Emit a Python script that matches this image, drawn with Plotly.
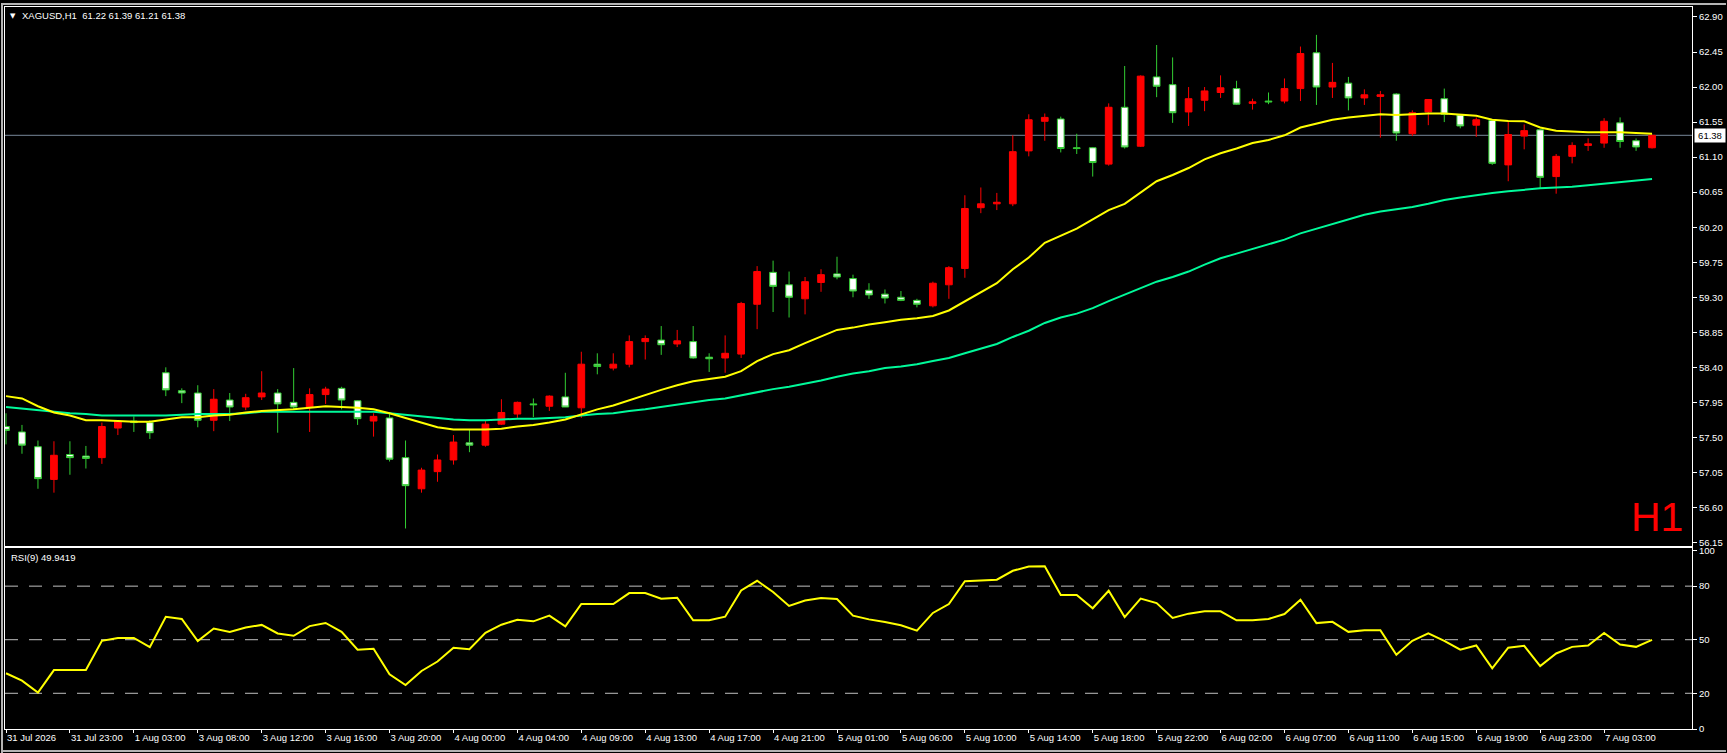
import plotly.graph_objects as go
from plotly.subplots import make_subplots

# --- data (XAGUSD, H1) ---
opens = [57.64, 57.57, 57.38, 56.96, 57.28, 57.26, 57.24, 57.62, 57.71, 57.69,
         58.33, 58.10, 58.07, 57.72, 57.98, 57.89, 58.02, 58.07, 57.95, 57.89,
         58.05, 58.13, 57.97, 57.71, 57.75, 57.24, 56.84, 57.06, 57.21, 57.43,
         57.40, 57.67, 57.80, 57.93, 57.90, 58.02, 57.88, 58.44, 58.39, 58.44,
         58.73, 58.75, 58.70, 58.73, 58.53, 58.52, 58.57, 59.21, 59.62, 59.46,
         59.28, 59.49, 59.60, 59.54, 59.39, 59.34, 59.30, 59.26, 59.19, 59.46,
         59.67, 60.45, 60.50, 60.50, 61.18, 61.56, 61.59, 61.22, 61.22, 61.01,
         61.74, 61.24, 62.13, 62.03, 61.68, 61.83, 61.93, 61.98, 61.79, 61.82,
         61.82, 61.98, 62.44, 62.00, 62.05, 61.86, 61.88, 61.91, 61.40, 61.68,
         61.85, 61.64, 61.51, 61.57, 61.00, 61.37, 61.45, 60.85, 61.11, 61.25,
         61.28, 61.54, 61.31, 61.22]
highs = [57.81, 57.66, 57.46, 57.45, 57.45, 57.39, 57.69, 57.72, 57.77, 57.72,
         58.40, 58.13, 58.17, 58.12, 58.07, 58.06, 58.35, 58.12, 58.39, 58.13,
         58.15, 58.15, 57.98, 57.81, 57.80, 57.46, 57.11, 57.28, 57.53, 57.60,
         57.71, 57.99, 57.96, 58.00, 58.04, 58.33, 58.60, 58.58, 58.58, 58.81,
         58.81, 58.93, 58.88, 58.93, 58.58, 58.81, 59.24, 59.70, 59.77, 59.63,
         59.56, 59.66, 59.82, 59.59, 59.48, 59.40, 59.38, 59.28, 59.50, 59.70,
         60.61, 60.71, 60.64, 61.38, 61.65, 61.66, 61.62, 61.40, 61.23, 61.79,
         62.27, 62.15, 62.54, 62.38, 62.00, 62.00, 62.15, 62.08, 61.85, 61.93,
         62.11, 62.52, 62.67, 62.31, 62.13, 61.97, 61.95, 61.92, 61.70, 61.84,
         61.98, 61.65, 61.61, 61.58, 61.55, 61.52, 61.46, 61.14, 61.29, 61.34,
         61.60, 61.61, 61.34, 61.39]
lows = [57.41, 57.29, 56.84, 56.79, 57.02, 57.10, 57.16, 57.53, 57.57, 57.48,
        58.03, 57.94, 57.63, 57.58, 57.71, 57.85, 57.98, 57.56, 57.86, 57.57,
        57.93, 57.86, 57.66, 57.51, 57.19, 56.33, 56.79, 56.93, 57.15, 57.31,
        57.38, 57.66, 57.75, 57.76, 57.84, 57.89, 57.75, 58.31, 58.36, 58.40,
        58.50, 58.56, 58.66, 58.51, 58.34, 58.33, 58.52, 58.89, 59.11, 59.04,
        59.08, 59.37, 59.53, 59.30, 59.28, 59.22, 59.25, 59.17, 59.17, 59.28,
        59.55, 60.38, 60.42, 60.47, 61.11, 61.31, 61.16, 61.14, 60.85, 60.99,
        61.21, 61.23, 61.87, 61.54, 61.50, 61.69, 61.86, 61.77, 61.71, 61.78,
        61.79, 61.82, 61.77, 61.86, 61.70, 61.77, 61.35, 61.31, 61.37, 61.51,
        61.55, 61.47, 61.36, 61.00, 60.79, 61.20, 60.70, 60.63, 61.02, 61.18,
        61.22, 61.22, 61.18, 61.21]
closes = [57.59, 57.40, 56.97, 57.27, 57.24, 57.23, 57.64, 57.71, 57.69, 57.56,
          58.11, 58.07, 57.72, 57.99, 57.89, 58.01, 58.07, 57.93, 57.89, 58.05,
          58.12, 57.98, 57.74, 57.77, 57.22, 56.88, 57.08, 57.21, 57.44, 57.40,
          57.67, 57.82, 57.95, 57.92, 58.03, 57.89, 58.44, 58.41, 58.44, 58.73,
          58.77, 58.69, 58.74, 58.52, 58.51, 58.58, 59.22, 59.63, 59.44, 59.30,
          59.50, 59.59, 59.56, 59.38, 59.33, 59.29, 59.26, 59.21, 59.48, 59.68,
          60.44, 60.50, 60.52, 61.17, 61.58, 61.61, 61.21, 61.21, 61.03, 61.74,
          61.23, 62.14, 62.01, 61.67, 61.85, 61.95, 61.99, 61.78, 61.81, 61.81,
          61.98, 62.43, 62.00, 62.06, 61.86, 61.90, 61.90, 61.41, 61.67, 61.84,
          61.65, 61.50, 61.58, 61.02, 61.39, 61.44, 60.84, 61.11, 61.25, 61.27,
          61.56, 61.30, 61.23, 61.38]

ma_fast = [58.03, 58.00, 57.90, 57.82, 57.78, 57.72, 57.72, 57.71, 57.70, 57.70,
           57.73, 57.76, 57.76, 57.78, 57.79, 57.82, 57.84, 57.85, 57.86, 57.88,
           57.90, 57.89, 57.88, 57.86, 57.81, 57.75, 57.69, 57.63, 57.60, 57.60,
           57.60, 57.61, 57.64, 57.66, 57.69, 57.73, 57.80, 57.86, 57.91, 57.98,
           58.05, 58.11, 58.17, 58.22, 58.25, 58.28, 58.35, 58.48, 58.57, 58.62,
           58.71, 58.79, 58.88, 58.91, 58.95, 58.98, 59.01, 59.03, 59.06, 59.13,
           59.25, 59.37, 59.48, 59.66, 59.81, 60.00, 60.09, 60.18, 60.30, 60.42,
           60.50, 60.64, 60.79, 60.87, 60.96, 61.07, 61.15, 61.21, 61.28, 61.32,
           61.38, 61.48, 61.53, 61.58, 61.61, 61.63, 61.65, 61.64, 61.65, 61.66,
           61.66, 61.645, 61.63, 61.58, 61.565, 61.56, 61.48, 61.44, 61.43, 61.42,
           61.42, 61.42, 61.41, 61.40]
ma_slow = [57.89, 57.87, 57.85, 57.83, 57.81, 57.80, 57.78, 57.78, 57.78, 57.78,
           57.78, 57.79, 57.80, 57.80, 57.80, 57.81, 57.83, 57.83, 57.83, 57.83,
           57.83, 57.83, 57.83, 57.83, 57.81, 57.79, 57.77, 57.75, 57.73, 57.72,
           57.72, 57.73, 57.74, 57.74, 57.75, 57.76, 57.78, 57.80, 57.81, 57.84,
           57.86, 57.89, 57.92, 57.95, 57.98, 58.00, 58.04, 58.08, 58.12, 58.15,
           58.19, 58.23, 58.28, 58.32, 58.35, 58.39, 58.41, 58.44, 58.48, 58.52,
           58.58, 58.64, 58.70, 58.79, 58.87, 58.97, 59.04, 59.09, 59.16, 59.25,
           59.33, 59.41, 59.50, 59.56, 59.63, 59.72, 59.80, 59.86, 59.92, 59.98,
           60.04, 60.12, 60.18, 60.24, 60.30, 60.36, 60.40, 60.43, 60.46, 60.50,
           60.55, 60.58, 60.61, 60.64, 60.66, 60.68, 60.70, 60.71, 60.72, 60.74,
           60.76, 60.78, 60.80, 60.82]

rsi = [31.2, 27.1, 20.4, 33.0, 33.0, 33.0, 49.4, 51.0, 51.0, 45.8,
       62.8, 61.6, 49.2, 56.3, 54.4, 56.8, 58.3, 53.5, 52.2, 57.6,
       59.4, 54.4, 44.4, 44.9, 30.6, 24.6, 32.5, 37.8, 45.5, 44.7,
       53.9, 58.4, 61.2, 60.3, 63.5, 57.5, 70.0, 70.0, 70.0, 76.1,
       76.1, 73.0, 73.5, 60.9, 60.9, 62.9, 77.6, 83.0, 76.7, 68.9,
       72.0, 73.3, 72.8, 63.5, 61.4, 59.9, 58.1, 55.1, 65.0, 70.0,
       82.8, 83.2, 83.6, 88.6, 91.0, 91.2, 75.0, 75.0, 67.6, 77.4,
       62.7, 73.0, 70.5, 62.2, 64.6, 65.9, 65.9, 60.9, 60.9, 61.6,
       64.4, 72.4, 59.3, 60.0, 54.4, 55.3, 55.3, 41.6, 49.4, 53.5,
       49.4, 44.4, 46.8, 34.0, 45.5, 46.6, 35.2, 42.3, 46.0, 46.8,
       53.8, 47.3, 46.0, 49.9419]

time_labels = ["31 Jul 2026", "31 Jul 23:00", "1 Aug 03:00", "3 Aug 08:00",
               "3 Aug 12:00", "3 Aug 16:00", "3 Aug 20:00", "4 Aug 00:00",
               "4 Aug 04:00", "4 Aug 09:00", "4 Aug 13:00", "4 Aug 17:00",
               "4 Aug 21:00", "5 Aug 01:00", "5 Aug 06:00", "5 Aug 10:00",
               "5 Aug 14:00", "5 Aug 18:00", "5 Aug 22:00", "6 Aug 02:00",
               "6 Aug 07:00", "6 Aug 11:00", "6 Aug 15:00", "6 Aug 19:00",
               "6 Aug 23:00", "7 Aug 03:00"]
price_ticks = [56.15, 56.60, 57.05, 57.50, 57.95, 58.40, 58.85, 59.30,
               59.75, 60.20, 60.65, 61.10, 61.55, 62.00, 62.45, 62.90]
rsi_levels = [20, 50, 80]
rsi_ticks = [0, 20, 50, 80, 100]
last_price = closes[-1]

bars = list(range(len(closes)))
tick_bars = bars[::4][:len(time_labels)]

# --- page geometry (pixels) ---
W, H = 1727, 753
L, R, T, B = 4, 34, 4, 24
PW, PH = W - L - R, H - T - B


def px_x(px):
    return (px - L) / PW


def px_y(py):
    return (H - B - py) / PH


FONT = "Liberation Sans"
GREEN = "#32cd32"

fig = make_subplots(rows=2, cols=1, shared_xaxes=True)

fig.add_trace(go.Candlestick(
    x=bars, open=opens, high=highs, low=lows, close=closes,
    increasing=dict(line=dict(color="#ff0000", width=1), fillcolor="#ff0000"),
    decreasing=dict(line=dict(color=GREEN, width=1), fillcolor="#ffffff"),
    whiskerwidth=0, hoverinfo="skip", showlegend=False,
), row=1, col=1)

fig.add_trace(go.Scatter(x=bars, y=ma_slow, mode="lines",
                         line=dict(color="#00fa9a", width=2),
                         hoverinfo="skip", showlegend=False), row=1, col=1)
fig.add_trace(go.Scatter(x=bars, y=ma_fast, mode="lines",
                         line=dict(color="#ffff00", width=2),
                         hoverinfo="skip", showlegend=False), row=1, col=1)

fig.add_trace(go.Scatter(x=bars, y=rsi, mode="lines",
                         line=dict(color="#ffff00", width=2),
                         hoverinfo="skip", showlegend=False), row=2, col=1)

# level lines of the RSI window
for lvl in rsi_levels:
    fig.add_shape(type="line", xref="paper", yref="y2", x0=0, x1=1, y0=lvl, y1=lvl,
                  line=dict(color="#c0c0c0", width=1, dash="13px,11px"), layer="below")

# current price line
fig.add_shape(type="line", xref="paper", yref="y", x0=0, x1=1,
              y0=last_price, y1=last_price, line=dict(color="#778899", width=1), layer="below")

# window frame (light grey edge)
for x0, y0, x1, y1 in [(1, 0, 1, H), (0, 1, W, 1), (0, H - 2, W, H - 2)]:
    fig.add_shape(type="line", xref="paper", yref="paper",
                  x0=px_x(x0), x1=px_x(x1), y0=px_y(y0), y1=px_y(y1),
                  line=dict(color="#b4b4b4", width=2))

axis_font = dict(family=FONT, size=9.5, color="#ffffff")
common = dict(showgrid=False, zeroline=False, showline=True, mirror=True,
              linecolor="#ffffff", linewidth=1)

fig.update_layout(
    width=W, height=H,
    margin=dict(l=L, r=R, t=T, b=B),
    paper_bgcolor="#000000", plot_bgcolor="#000000",
    boxgap=0.4,
    hovermode=False,
    xaxis=dict(domain=[0, 1], range=[-0.0625, 105.5], rangeslider=dict(visible=False),
               showticklabels=False, ticks="", **common),
    yaxis=dict(domain=[px_y(545), 1], range=[56.108, 63.028], side="right",
               tickvals=price_ticks, ticktext=[f"{v:.2f}" for v in price_ticks],
               ticks="outside", ticklen=4, tickcolor="#ffffff", tickfont=axis_font, **common),
    xaxis2=dict(domain=[0, 1], range=[-0.0625, 105.5],
                tickvals=tick_bars, ticktext=time_labels, ticklabelposition="outside right",
                ticks="outside", ticklen=3, tickcolor="#ffffff", tickfont=axis_font, **common),
    yaxis2=dict(domain=[0, px_y(547)], range=[0, 101.5], side="right",
                tickvals=rsi_ticks, ticks="outside", ticklen=4, tickcolor="#ffffff",
                tickfont=axis_font, **common),
)

# texts
fig.add_annotation(x=px_x(7), y=px_y(13), xref="paper", yref="paper", text="\u25bc",
                   showarrow=False, xanchor="left", yanchor="middle",
                   font=dict(family="DejaVu Sans", size=7, color="#ffffff"))
fig.add_annotation(x=px_x(19), y=px_y(13), xref="paper", yref="paper",
                   text="XAGUSD,H1\u00a0\u00a0%.2f %.2f %.2f %.2f" % (opens[-1], highs[-1], lows[-1], closes[-1]),
                   showarrow=False, xanchor="left", yanchor="middle", font=axis_font)
fig.add_annotation(x=px_x(8), y=px_y(557), xref="paper", yref="paper",
                   text="RSI(9) %.4f" % rsi[-1],
                   showarrow=False, xanchor="left", yanchor="middle", font=axis_font)
fig.add_annotation(x=px_x(1686), y=px_y(541), xref="paper", yref="paper", text="H1",
                   showarrow=False, xanchor="right", yanchor="bottom",
                   font=dict(family=FONT, size=41, color="#ff0000"))
fig.add_annotation(x=px_x(1695), y=last_price, xref="paper", yref="y",
                   text="%.2f" % last_price, showarrow=False, xanchor="left", yanchor="middle",
                   bgcolor="#ffffff", width=28, borderpad=1,
                   font=dict(family=FONT, size=9.5, color="#000000"))

# page body has a default margin; drop it so the chart sits at the window corner
fig.write_html("out.html", config={"displayModeBar": False},
               post_script="document.body.style.margin='0px';document.body.style.overflow='hidden';")
